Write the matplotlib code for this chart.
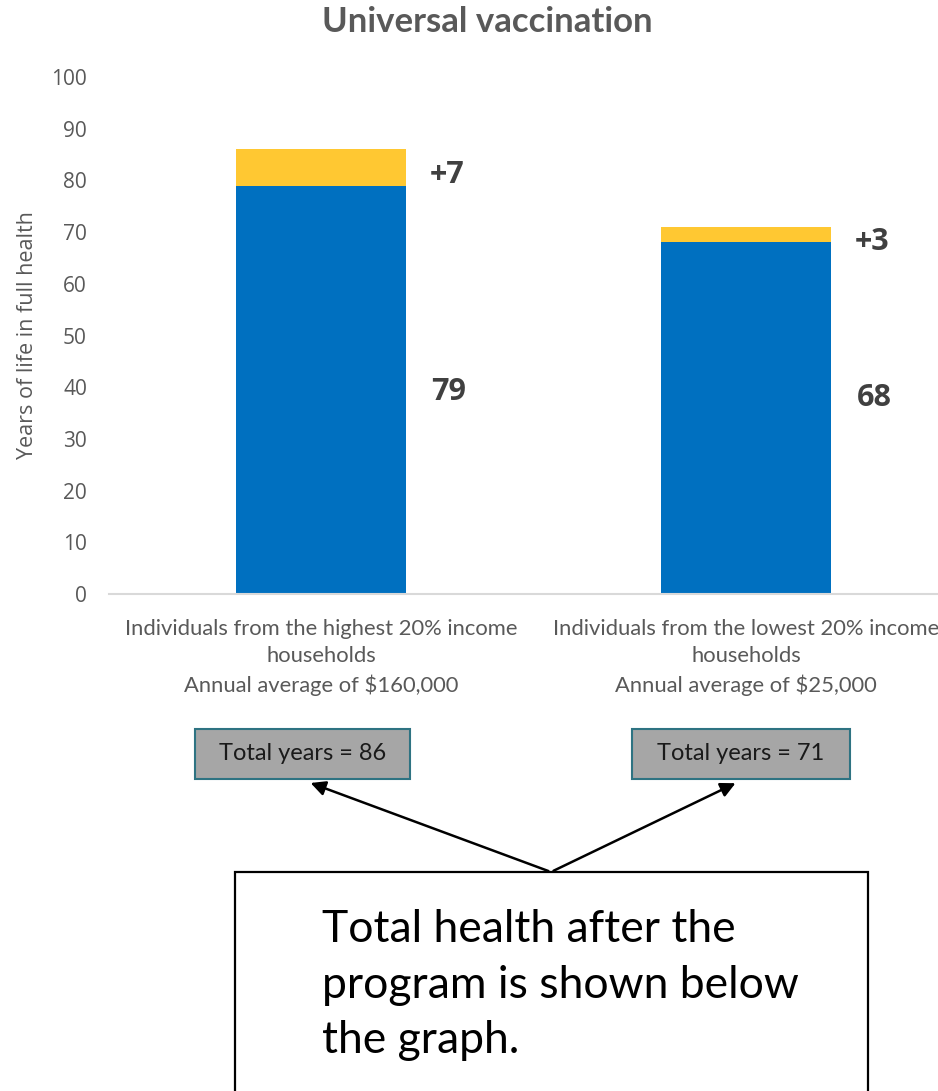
import matplotlib
matplotlib.use("Agg")
import matplotlib.pyplot as plt
from matplotlib.patches import FancyArrowPatch, Rectangle

# data
categories = ["Individuals from the highest 20% income\nhouseholds\nAnnual average of $160,000",
              "Individuals from the lowest 20% income\nhouseholds\nAnnual average of $25,000"]
base_years = [79, 68]
gain_years = [7, 3]
yticks = [0, 10, 20, 30, 40, 50, 60, 70, 80, 90, 100]

W, H = 938, 1091
fig = plt.figure(figsize=(W / 100, H / 100), dpi=100)


def fx(px):
    return px / W


def fy(py):
    return 1 - py / H


# axes: x from 108.5 to 958.5 px, y 0 at 594 px, 100 at 77 px
ax = fig.add_axes([fx(108.5), fy(594), fx(850), (594 - 77) / H])
xs = range(len(categories))
ax.bar(xs, base_years, width=0.4, color="#0070C0")
ax.bar(xs, gain_years, width=0.4, bottom=base_years, color="#FFC832")
ax.set_xlim(-0.5, 1.5)
ax.set_ylim(0, 100)
ax.set_yticks(yticks)
ax.tick_params(axis="y", length=0, labelsize=15, labelcolor="#595959", pad=15.5)
ax.tick_params(axis="x", length=0, pad=18)
for lab in ax.get_yticklabels():
    lab.set_family("Open Sans")
ax.set_xticks(list(xs))
ax.set_xticklabels(categories, fontsize=15.8, color="#595959", family="Lato",
                   linespacing=1.45)
for s in ["left", "right", "top"]:
    ax.spines[s].set_visible(False)
ax.spines["bottom"].set_color("#D9D9D9")
ax.spines["bottom"].set_linewidth(1.5)
ax.set_ylabel("Years of life in full health", fontsize=15.5, color="#595959",
              family="Open Sans")
ax.yaxis.set_label_coords(-0.083, 0.5)

# value labels
for i in xs:
    ax.text(i + 0.255, base_years[i] + gain_years[i] / 2 - 1.5, "+%d" % gain_years[i],
            fontsize=22, fontweight="bold", color="#404040", family="Open Sans",
            va="center", ha="left")
    ax.text(i + 0.26, 39 if i == 0 else 38, "%d" % base_years[i],
            fontsize=22, fontweight="bold", color="#404040", family="Open Sans",
            va="center", ha="left")

fig.text(fx(487), fy(22), "Universal vaccination", fontsize=25, fontweight="bold",
         color="#595959", family="Lato", ha="center", va="center")

# total boxes
boxes = [(195, 410), (632, 850)]
for (x0, x1), b, g in zip(boxes, base_years, gain_years):
    fig.patches.append(Rectangle((fx(x0), fy(779)), fx(x1 - x0), (779 - 729) / H,
                                 transform=fig.transFigure, facecolor="#A6A6A6",
                                 edgecolor="#2E7382", linewidth=1.5))
    fig.text(fx((x0 + x1) / 2), fy(754), "Total years = %d" % (b + g), fontsize=17,
             color="#1a1a1a", family="Lato", ha="center", va="center")

# arrows
for tx in (308, 738):
    fig.add_artist(FancyArrowPatch(
        (fx(551), fy(872)), (fx(tx), fy(782)), transform=fig.transFigure,
        arrowstyle="-|>", mutation_scale=22, color="black", linewidth=1.8))

# big note box
fig.patches.append(Rectangle((fx(235), fy(1100)), fx(868 - 235), (1100 - 872) / H,
                             transform=fig.transFigure, facecolor="white",
                             edgecolor="black", linewidth=1.6))
fig.text(fx(322), fy(985), "Total health after the\nprogram is shown below\nthe graph.",
         fontsize=32, color="black", family="Lato", ha="left", va="center",
         linespacing=1.45)

fig.savefig("out.png", dpi=100)
